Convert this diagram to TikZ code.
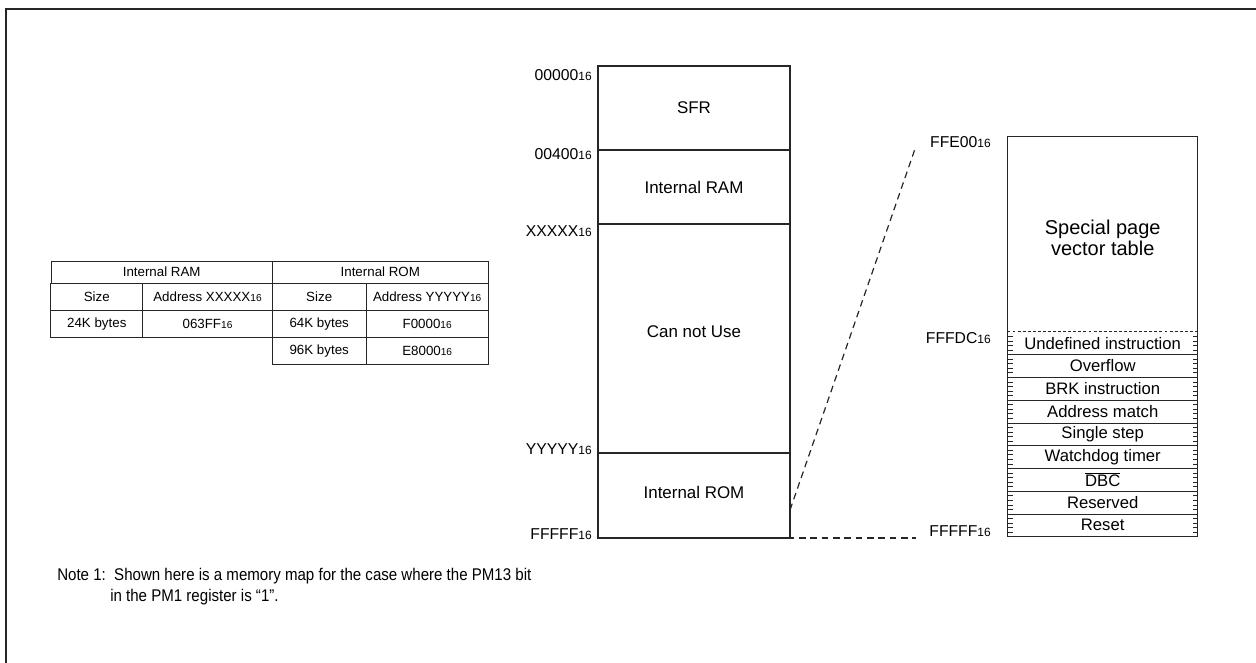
\documentclass[tikz,border=0pt]{standalone}
\usepackage{fontspec}
\setmainfont{Liberation Sans}
\newfontfamily\narrowfont[FakeStretch=0.89]{Liberation Sans}
\usepackage{graphicx}
\usetikzlibrary{calc}
\newcommand{\hexa}[1]{#1\scalebox{0.76}{16}}
\tikzset{
  frameline/.style={draw=black!85, line width=1.9pt},
  boxline/.style={draw=black!85, line width=0.8pt},
  region/.style={boxline, minimum width=144pt, inner sep=0pt, font=\fontsize{12.7}{15}\selectfont},
  addr/.style={anchor=east, inner sep=0pt, font=\fontsize{11.8}{13}\selectfont},
  cell/.style={draw=black!85, line width=0.7pt, inner sep=0pt, minimum height=20.25pt, font=\fontsize{10}{12}\selectfont},
  vecrow/.style={minimum width=142.5pt, minimum height=17.08pt, inner sep=0pt, font=\fontsize{12.5}{14}\selectfont},
  vectick/.style={draw=black!85, line width=0.4pt},
  dotline/.style={draw=black!85, line width=0.6pt, dash pattern=on 2.2pt off 1.6pt},
  zoomline/.style={draw=black!85, line width=0.9pt, dash pattern=on 5pt off 3.5pt},
  note/.style={inner sep=0pt, font=\narrowfont\fontsize{12.7}{15}\selectfont},
}
\begin{document}
\begin{tikzpicture}[x=0.75pt,y=-0.75pt]
  \useasboundingbox (0,0) rectangle (1256,663);
  \draw[frameline] (6,670) -- (6,9) -- (1264,9);

  % size table
  \node[cell, minimum width=166pt, minimum height=16.7pt] (tram) at (161.7,272.2) {Internal RAM};
  \node[cell, minimum width=162pt, minimum height=16.7pt] (trom) at (380.3,272.2) {Internal ROM};
  \node[cell, minimum width=68.8pt] (tsize1) at (96.8,296.7) {Size};
  \node[cell, minimum width=97.2pt] (taddr1) at (207.5,296.7) {Address \hexa{XXXXX}};
  \node[cell, minimum width=70.3pt] (tsize2) at (319.2,296.7) {Size};
  \node[cell, minimum width=91.7pt] (taddr2) at (427.2,296.7) {Address \hexa{YYYYY}};
  \node[cell, minimum width=68.8pt] (tram24) at (96.8,323.7) {24K bytes};
  \node[cell, minimum width=97.2pt] (tramad) at (207.5,323.7) {\hexa{063FF}};
  \node[cell, minimum width=70.3pt] (trom64) at (319.2,323.7) {64K bytes};
  \node[cell, minimum width=91.7pt] (tromad1) at (427.2,323.7) {\hexa{F0000}};
  \node[cell, minimum width=70.3pt] (trom96) at (319.2,350.7) {96K bytes};
  \node[cell, minimum width=91.7pt] (tromad2) at (427.2,350.7) {\hexa{E8000}};

  % memory map
  \node[region, minimum height=63pt] (sfr) at (694,108) {SFR};
  \node[region, minimum height=55.5pt] (ram) at (694,187) {Internal RAM};
  \node[region, minimum height=171.75pt, text depth=10.5pt] (cnu) at (694,338.5) {Can not Use};
  \node[region, minimum height=63.75pt, text depth=4pt] (rom) at (694,495.5) {Internal ROM};

  \node[addr] (a0) at (592,75) {\hexa{00000}};
  \node[addr] (a1) at (592,154) {\hexa{00400}};
  \node[addr] (a2) at (592,231) {\hexa{XXXXX}};
  \node[addr] (a3) at (592,449) {\hexa{YYYYY}};
  \node[addr] (a4) at (592,534) {\hexa{FFFFF}};

  % vector table
  \node[vecrow, minimum height=146.25pt, align=center, font=\fontsize{15}{16.2}\selectfont] (spt) at (1102.7,238) {Special page\\vector table};
  \foreach \txt [count=\i] in {Undefined instruction, Overflow, BRK instruction, Address match, Single step, Watchdog timer, $\overline{\mbox{DBC}}$, Reserved, Reset}
    \node[vecrow] (v\i) at (1102.7,{331.7+22.78*\i-11.39}) {\txt};
  \draw[boxline] (1007.7,136.7) rectangle (1197.7,536.7);
  \draw[dotline] (v1.north west) -- (v1.north east);
  \foreach \i in {1,...,8}
    \draw[boxline] (v\i.south west) -- (v\i.south east);
  \foreach \i in {1,...,9}
    \foreach \k in {1,...,4} {
      \draw[vectick] (1007.7,{331.7+22.78*(\i-1)+4.556*\k}) -- ++(5,0);
      \draw[vectick] (1197.7,{331.7+22.78*(\i-1)+4.556*\k}) -- ++(-5,0);
    }

  \node[addr] (b0) at (991,142) {\hexa{FFE00}};
  \node[addr] (b1) at (991,338) {\hexa{FFFDC}};
  \node[addr] (b2) at (991,531) {\hexa{FFFFF}};

  % zoom lines
  \coordinate (ztop) at (916,146);
  \coordinate (zbot) at (790,510);
  \coordinate (hstart) at (765,538);
  \coordinate (hend) at (916,538);
  \draw[zoomline] (zbot) -- (ztop);
  \draw[zoomline] (hstart) -- (hend);

  \node[note, anchor=base west] (note1) at (57,580) {Note 1:\ \ Shown here is a memory map for the case where the PM13 bit};
  \node[note, anchor=base west] (note2) at (110,601) {in the PM1 register is “1”.};
\end{tikzpicture}
\end{document}
